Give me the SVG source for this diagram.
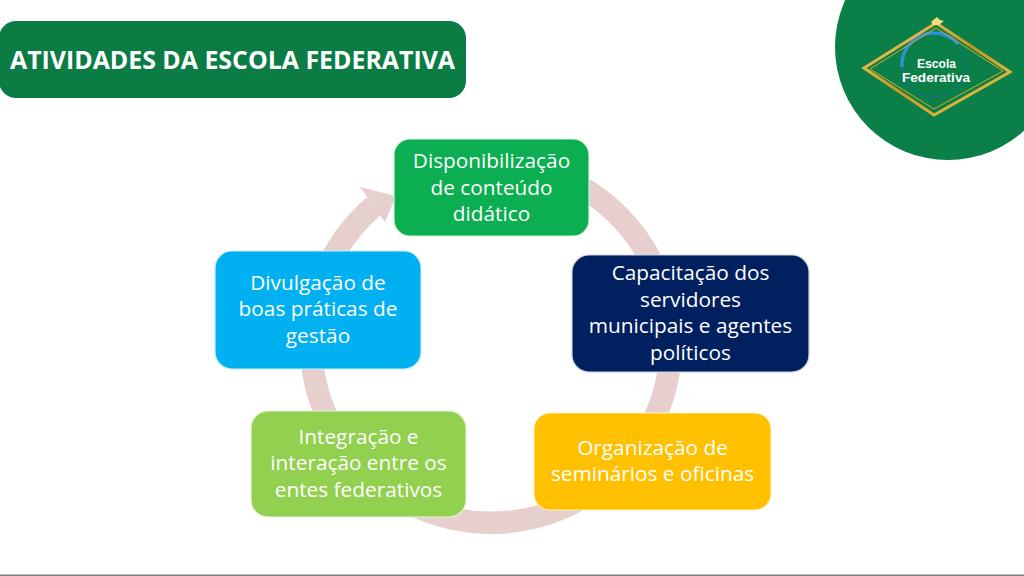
<svg xmlns="http://www.w3.org/2000/svg" width="1024" height="576" viewBox="0 0 1024 576">
<style>
.t{font-family:"Open Sans","Noto Sans","Liberation Sans",sans-serif;font-size:20.8px;fill:#fff;text-anchor:middle}
.n{stroke-width:1.2}
.g{fill:none;stroke-linejoin:miter}
.l{font-family:"Liberation Sans","Open Sans",sans-serif;font-size:12px;font-weight:700;fill:#fff;text-anchor:middle}
</style>
<defs>
<linearGradient id="gold" x1="0" y1="0" x2="1" y2="1">
<stop offset="0" stop-color="#f7d667"/><stop offset=".5" stop-color="#c9931f"/><stop offset="1" stop-color="#f5cf52"/>
</linearGradient>
</defs>
<rect width="1024" height="576" fill="#fff"/>
<rect x="0" y="574.500" width="1024" height="1.500" fill="#7f7f7f"/>
<g id="title">
<rect x="-1" y="21" width="467" height="77" rx="17" fill="#0a7c44"/>
<text x="232.500" y="69" font-family="'Open Sans','Noto Sans','Liberation Sans',sans-serif" font-size="24.900" font-weight="700" fill="#fff" text-anchor="middle">ATIVIDADES DA ESCOLA FEDERATIVA</text>
</g>
<g id="logo">
<circle cx="948" cy="47" r="113" fill="#0a7f47"/>
<path d="M902 67A32 32 0 0 1 934 33A32 32 0 0 1 958 44" fill="none" stroke="#2f8fd8" stroke-width="3.500"/>
<path d="M958 44A32 32 0 0 1 966 65A32 32 0 0 1 934 97A32 32 0 0 1 902 67" fill="none" stroke="#1a6f9a" stroke-width="1"/>
<path class="g" d="M864 68L936 23L1010 72L934 115Z" stroke="url(#gold)" stroke-width="3"/>
<path class="g" d="M870 69L936 28L1003 71L934 109Z" stroke="#d9a92f" stroke-width="1"/>
<path d="M931 22L937 17L940 20L944 21L939 25L933 25Z" fill="#f5dc80"/>
<text class="l" x="936.500" y="68" textLength="39" lengthAdjust="spacingAndGlyphs">Escola</text>
<text class="l" x="936" y="82" textLength="68" lengthAdjust="spacingAndGlyphs">Federativa</text>
</g>
<g id="connectors">
<path d="M561 177A180 180 0 1 1 374 206" fill="none" stroke="#e6cfcd" stroke-width="22.500"/>
<polygon points="360,187 396,196 385,222" fill="#e6cfcd"/>
</g>
<g id="node-conteudo">
<rect class="n" x="394" y="139" width="195" height="97" rx="16" fill="#0bae50" stroke="#d5f0dd"/>
<text class="t" x="491.500" y="168">Disponibilização</text>
<text class="t" x="491.500" y="195">de conteúdo</text>
<text class="t" x="491.500" y="221">didático</text>
</g>
<g id="node-capacitacao">
<rect class="n" x="572" y="255" width="237" height="117" rx="17" fill="#002060" stroke="#ccd3e0"/>
<text class="t" x="690.500" y="280">Capacitação dos</text>
<text class="t" x="690.500" y="307">servidores</text>
<text class="t" x="690.500" y="333">municipais e agentes</text>
<text class="t" x="690.500" y="360">políticos</text>
</g>
<g id="node-seminarios">
<rect class="n" x="534" y="413" width="237" height="97" rx="16" fill="#ffc000" stroke="#fff0c0"/>
<text class="t" x="652.500" y="455">Organização de</text>
<text class="t" x="652.500" y="481">seminários e oficinas</text>
</g>
<g id="node-integracao">
<rect class="n" x="251" y="411" width="215" height="106" rx="17" fill="#92d050" stroke="#e6f5d5"/>
<text class="t" x="358.500" y="444">Integração e</text>
<text class="t" x="358.500" y="470">interação entre os</text>
<text class="t" x="358.500" y="497">entes federativos</text>
</g>
<g id="node-divulgacao">
<rect class="n" x="215" y="251" width="206" height="118" rx="17" fill="#00b0f0" stroke="#c8ecfb"/>
<text class="t" x="318" y="290">Divulgação de</text>
<text class="t" x="318" y="316">boas práticas de</text>
<text class="t" x="318" y="343">gestão</text>
</g>
</svg>
